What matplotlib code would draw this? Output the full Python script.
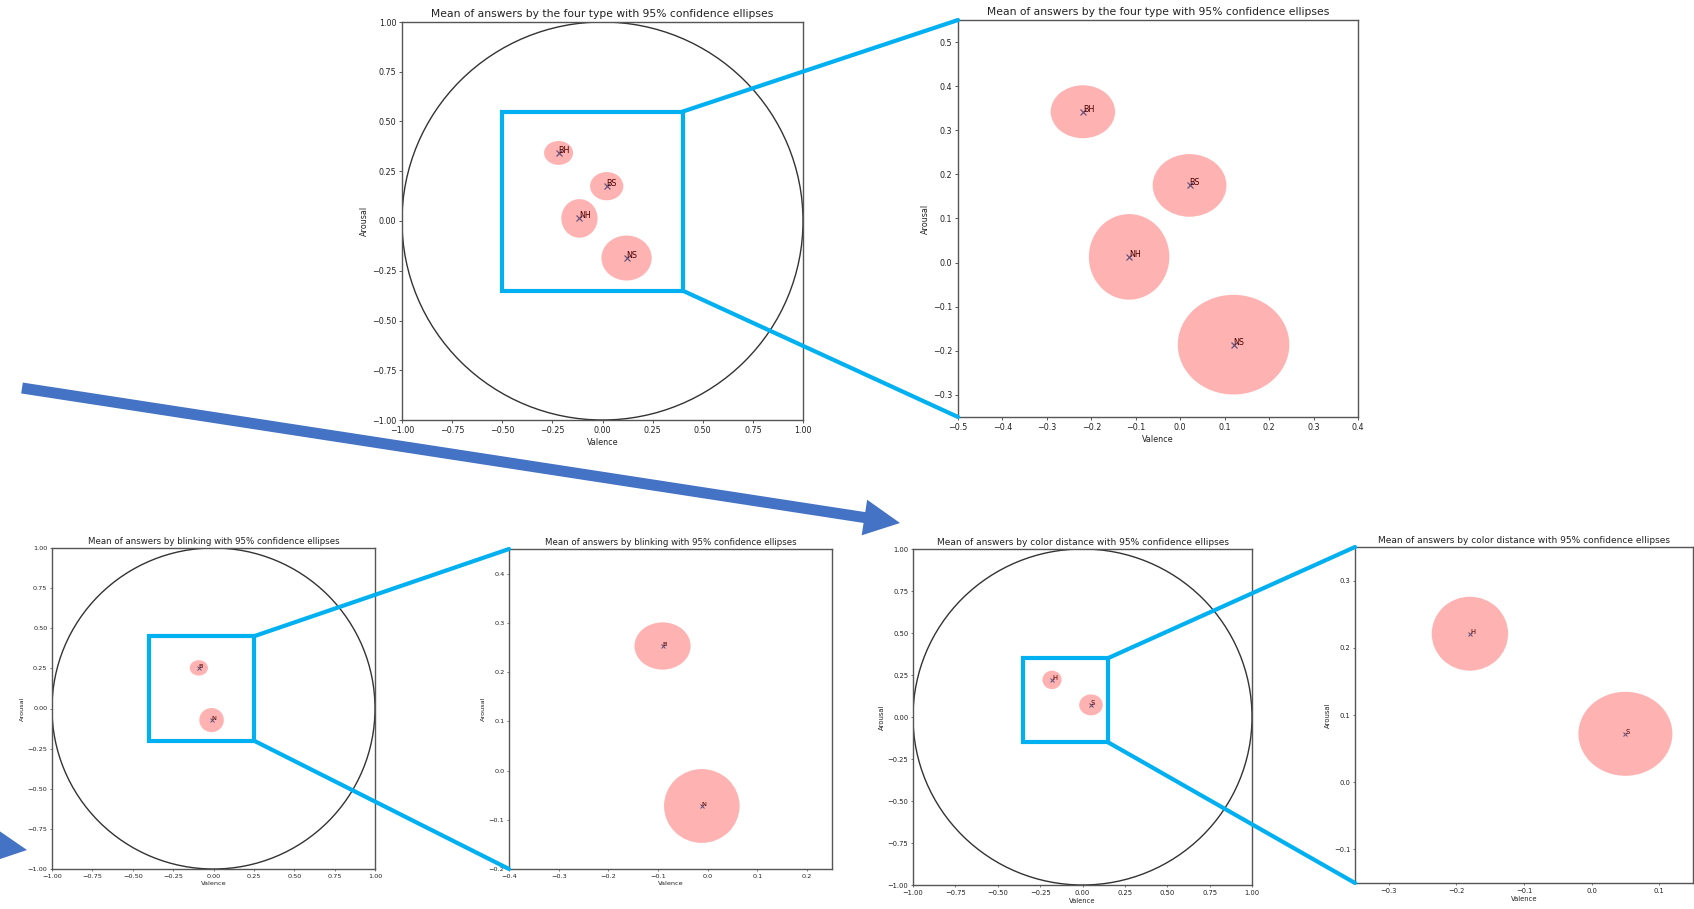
import numpy as np
import matplotlib
matplotlib.use("Agg")
import matplotlib.pyplot as plt
from matplotlib.patches import Ellipse, Circle, Rectangle, ConnectionPatch, FancyArrow
from matplotlib.ticker import MultipleLocator
from matplotlib.transforms import IdentityTransform

W, H = 1694, 909

# means and 95% confidence ellipse sizes (valence, arousal)
four_labels = ["BH", "BS", "NH", "NS"]
four_val = [-0.219, 0.021, -0.115, 0.120]
four_aro = [0.342, 0.175, 0.013, -0.186]
four_w = [0.145, 0.166, 0.181, 0.251]
four_h = [0.120, 0.142, 0.194, 0.226]
four_xlim = (-0.5, 0.4)
four_ylim = (-0.35, 0.55)

blink_labels = ["B", "N"]
blink_val = [-0.091, -0.012]
blink_aro = [0.253, -0.072]
blink_w = [0.113, 0.152]
blink_h = [0.096, 0.150]
blink_xlim = (-0.4, 0.25)
blink_ylim = (-0.2, 0.45)

color_labels = ["H", "S"]
color_val = [-0.180, 0.050]
color_aro = [0.221, 0.072]
color_w = [0.113, 0.139]
color_h = [0.110, 0.125]
color_xlim = (-0.35, 0.15)
color_ylim = (-0.15, 0.35)

ZOOM_BLUE = "#00b0f0"
ARROW_BLUE = "#4472c4"

fig = plt.figure(figsize=(W / 100, H / 100), dpi=100)


def px_axes(x0, y0, x1, y1):
    return fig.add_axes([x0 / W, 1 - y1 / H, (x1 - x0) / W, (y1 - y0) / H])


def draw_means(ax, labels, val, aro, w, h, title, s, full):
    ts = s * 1.12
    for lab, x, y, ew, eh in zip(labels, val, aro, w, h):
        ax.plot(x, y, "x", color="C0", ms=7 * s, mew=1.5 * s, zorder=2)
        ax.text(x, y, lab, fontsize=10 * s, zorder=2)
        # ellipse sits over the mean marker
        ax.add_patch(Ellipse((x, y), ew, eh, color="red", alpha=0.3, lw=0, zorder=3))
    if full:
        ax.add_patch(Circle((0, 0), 1, fill=False, color="#333333", lw=1.0))
        ax.set_xlim(-1, 1)
        ax.set_ylim(-1, 1)
        ax.set_xticks(np.arange(-1, 1.01, 0.25))
        ax.set_yticks(np.arange(-1, 1.01, 0.25))
    else:
        ax.xaxis.set_major_locator(MultipleLocator(0.1))
        ax.yaxis.set_major_locator(MultipleLocator(0.1))
    ax.set_title(title, fontsize=12 * ts, pad=6 * s, color="#222222")
    ax.set_xlabel("Valence", fontsize=10 * s, labelpad=4 * s, color="#222222")
    ax.set_ylabel("Arousal", fontsize=10 * s, labelpad=4 * s, color="#222222")
    ax.tick_params(labelsize=10 * s, length=3.5 * s, width=0.8 * s, pad=3.5 * s,
                   labelcolor="#222222")
    for sp in ax.spines.values():
        sp.set_color("#555555")
        sp.set_linewidth(1.0)


def zoom_link(big, small, xlim, ylim):
    big.add_patch(Rectangle((xlim[0], ylim[0]), xlim[1] - xlim[0], ylim[1] - ylim[0],
                            fill=False, edgecolor=ZOOM_BLUE, lw=3, zorder=5))
    small.set_xlim(xlim)
    small.set_ylim(ylim)
    for yb, ys in [(ylim[1], 1), (ylim[0], 0)]:
        con = ConnectionPatch(xyA=(xlim[1], yb), coordsA=big.transData,
                              xyB=(0, ys), coordsB=small.transAxes,
                              color=ZOOM_BLUE, lw=3, zorder=6)
        fig.add_artist(con)


# top pair: four types
t1 = "Mean of answers by the four type with 95% confidence ellipses"
ax1 = px_axes(402, 22, 803, 420)
ax2 = px_axes(958, 20, 1358, 417)
draw_means(ax1, four_labels, four_val, four_aro, four_w, four_h, t1, 0.58, True)
draw_means(ax2, four_labels, four_val, four_aro, four_w, four_h, t1, 0.58, False)
zoom_link(ax1, ax2, four_xlim, four_ylim)

# bottom left pair: blinking
t2 = "Mean of answers by blinking with 95% confidence ellipses"
ax3 = px_axes(52, 548, 375, 869)
ax4 = px_axes(509, 549, 832, 869)
draw_means(ax3, blink_labels, blink_val, blink_aro, blink_w, blink_h, t2, 0.465, True)
draw_means(ax4, blink_labels, blink_val, blink_aro, blink_w, blink_h, t2, 0.465, False)
zoom_link(ax3, ax4, blink_xlim, blink_ylim)

# bottom right pair: color distance
t3 = "Mean of answers by color distance with 95% confidence ellipses"
ax5 = px_axes(913, 549, 1252, 885)
ax6 = px_axes(1355, 547, 1693, 883)
draw_means(ax5, color_labels, color_val, color_aro, color_w, color_h, t3, 0.485, True)
draw_means(ax6, color_labels, color_val, color_aro, color_w, color_h, t3, 0.485, False)
zoom_link(ax5, ax6, color_xlim, color_ylim)


# big block arrows, in pixel units
def block_arrow(x0, y0, x1, y1):
    arr = FancyArrow(x0, H - y0, x1 - x0, -(y1 - y0), width=11, head_width=36,
                     head_length=36, length_includes_head=True,
                     color=ARROW_BLUE, lw=0, transform=IdentityTransform())
    fig.add_artist(arr)


block_arrow(22, 388, 900, 523)
block_arrow(-300, 804, 27, 850)

fig.savefig("out.png", dpi=100)
